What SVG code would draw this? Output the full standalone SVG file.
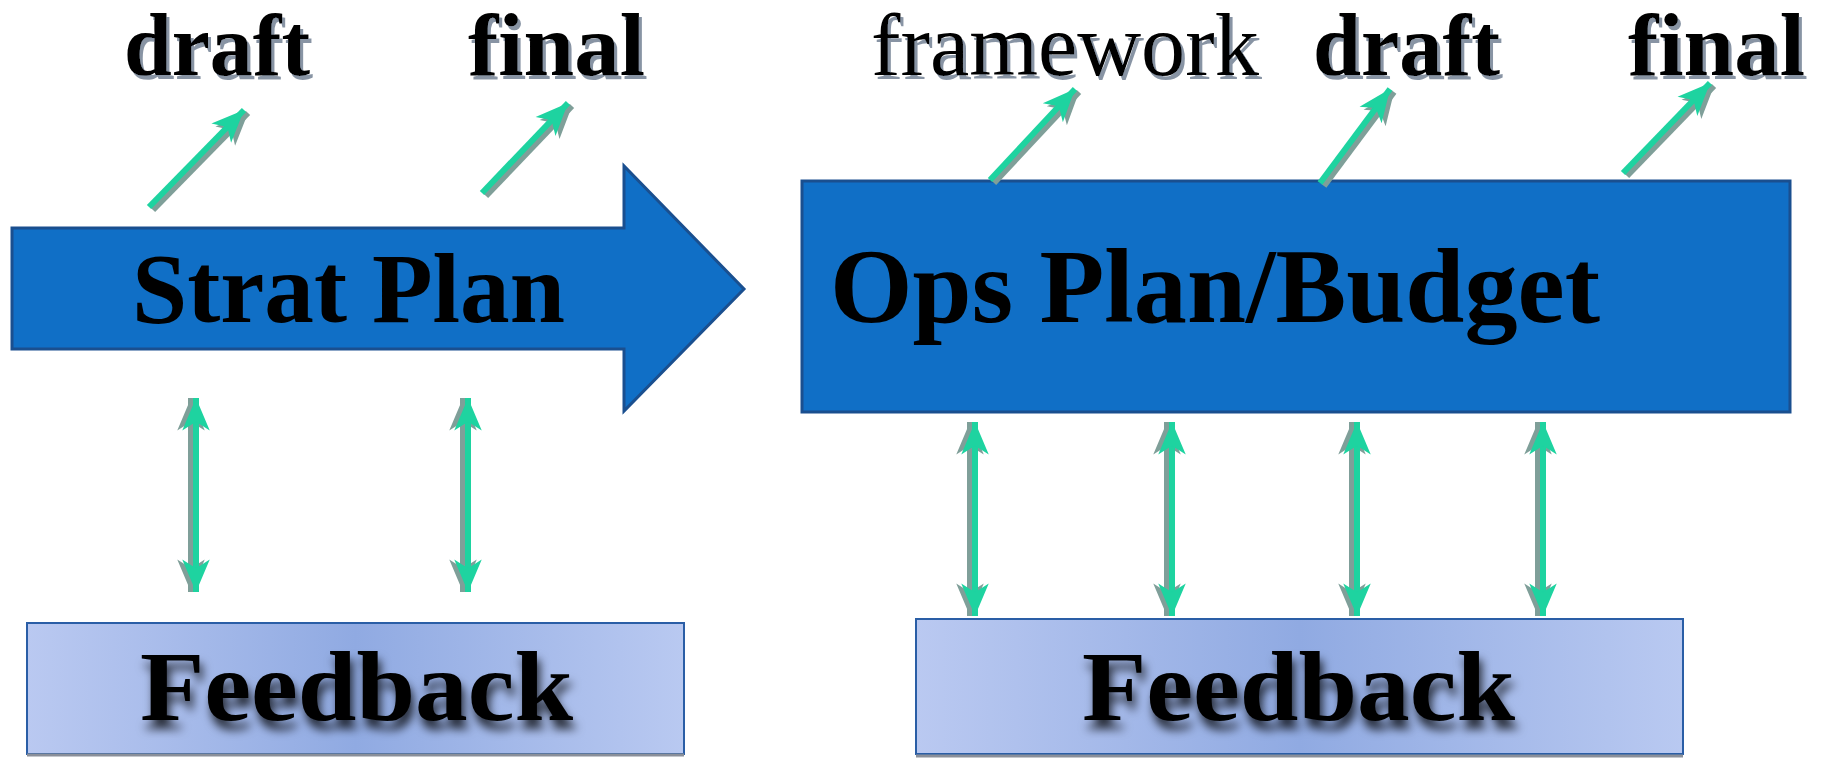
<svg xmlns="http://www.w3.org/2000/svg" width="1825" height="758" viewBox="0 0 1825 758">
<style>
.lbl{font-family:"Liberation Serif","Times New Roman",serif;font-size:88px;fill:#000}
.b{font-weight:bold}
.big{font-family:"Liberation Serif","Times New Roman",serif;font-weight:bold;fill:#000}
.ar{stroke:#1ed3a0;stroke-width:6;fill:none}
.ars{stroke:#7f9f99;stroke-width:6;fill:none}
</style>
<defs>
<marker id="h" markerUnits="userSpaceOnUse" markerWidth="40" markerHeight="40" refX="0" refY="0" viewBox="-30 -15 32 30" orient="auto-start-reverse" overflow="visible">
<path d="M0,0 L-26,-11 L-19,0 L-26,11 Z" fill="#1ed3a0"/>
</marker>
<marker id="hs" markerUnits="userSpaceOnUse" markerWidth="40" markerHeight="40" refX="0" refY="0" viewBox="-30 -15 32 30" orient="auto-start-reverse" overflow="visible">
<path d="M0,0 L-26,-11 L-19,0 L-26,11 Z" fill="#7f9f99"/>
</marker>
<linearGradient id="fb" x1="0" y1="0" x2="1" y2="0">
<stop offset="0" stop-color="#bac9f1"/>
<stop offset="0.5" stop-color="#90aae2"/>
<stop offset="1" stop-color="#b9c9f1"/>
</linearGradient>
<filter id="tsh" x="-10%" y="-20%" width="120%" height="150%">
<feGaussianBlur in="SourceAlpha" stdDeviation="5"/>
<feOffset dx="3" dy="9" result="b"/>
<feFlood flood-color="#000" flood-opacity="0.75"/>
<feComposite in2="b" operator="in"/>
<feMerge><feMergeNode/><feMergeNode in="SourceGraphic"/></feMerge>
</filter>
<filter id="lsh" x="-5%" y="-10%" width="115%" height="130%">
<feOffset in="SourceAlpha" dx="3" dy="4" result="o"/>
<feFlood flood-color="#8894a4"/>
<feComposite in2="o" operator="in"/>
<feMerge><feMergeNode/><feMergeNode in="SourceGraphic"/></feMerge>
</filter>
</defs>
<rect width="1825" height="758" fill="#fff"/>

<g id="strat-plan">
<path d="M12,228 L624,228 L624,166 L744,289 L624,411 L624,349 L12,349 Z" fill="#106fc6" stroke="#1a4f8f" stroke-width="3"/>
<text class="big" x="132" y="322" font-size="99" textLength="433" lengthAdjust="spacingAndGlyphs">Strat Plan</text>
</g>

<g id="ops-plan">
<rect x="802" y="181" width="988" height="231" fill="#106fc6" stroke="#1a4f8f" stroke-width="3"/>
<text class="big" x="830" y="322" font-size="105" textLength="770" lengthAdjust="spacingAndGlyphs">Ops Plan/Budget</text>
</g>

<g id="feedback-left">
<rect x="27" y="623" width="657" height="131" fill="url(#fb)" stroke="#2a5ea6" stroke-width="2"/>
<line x1="27" y1="755" x2="684" y2="755" stroke="#8a8f99" stroke-width="3"/>
<text class="big" x="140" y="720" font-size="100" textLength="433" lengthAdjust="spacingAndGlyphs" filter="url(#tsh)">Feedback</text>
</g>

<g id="feedback-right">
<rect x="916" y="619" width="767" height="135" fill="url(#fb)" stroke="#2a5ea6" stroke-width="2"/>
<line x1="916" y1="756" x2="1683" y2="756" stroke="#8a8f99" stroke-width="3"/>
<text class="big" x="1082" y="720" font-size="100" textLength="433" lengthAdjust="spacingAndGlyphs" filter="url(#tsh)">Feedback</text>
</g>

<g id="label-draft-1">
<text class="lbl b" x="124" y="75" textLength="186" lengthAdjust="spacingAndGlyphs" filter="url(#lsh)">draft</text>
</g>
<g id="label-final-1">
<text class="lbl b" x="468" y="75" textLength="177" lengthAdjust="spacingAndGlyphs" filter="url(#lsh)">final</text>
</g>
<g id="label-framework">
<text class="lbl" x="871" y="75" textLength="388" lengthAdjust="spacingAndGlyphs" filter="url(#lsh)">framework</text>
</g>
<g id="label-draft-2">
<text class="lbl b" x="1313" y="75" textLength="187" lengthAdjust="spacingAndGlyphs" filter="url(#lsh)">draft</text>
</g>
<g id="label-final-2">
<text class="lbl b" x="1628" y="75" textLength="177" lengthAdjust="spacingAndGlyphs" filter="url(#lsh)">final</text>
</g>

<g id="connectors">
<g transform="translate(4,3)">
<line class="ars" x1="149" y1="207" x2="244" y2="110" marker-end="url(#hs)"/>
<line class="ars" x1="482" y1="193" x2="568" y2="103" marker-end="url(#hs)"/>
<line class="ars" x1="990" y1="180" x2="1075" y2="89" marker-end="url(#hs)"/>
<line class="ars" x1="1320" y1="183" x2="1390" y2="89" marker-end="url(#hs)"/>
<line class="ars" x1="1623" y1="173" x2="1710" y2="83" marker-end="url(#hs)"/>
</g>
<line class="ar" x1="149" y1="207" x2="244" y2="110" marker-end="url(#h)"/>
<line class="ar" x1="482" y1="193" x2="568" y2="103" marker-end="url(#h)"/>
<line class="ar" x1="990" y1="180" x2="1075" y2="89" marker-end="url(#h)"/>
<line class="ar" x1="1320" y1="183" x2="1390" y2="89" marker-end="url(#h)"/>
<line class="ar" x1="1623" y1="173" x2="1710" y2="83" marker-end="url(#h)"/>

<g transform="translate(-5,0)">
<line class="ars" x1="196" y1="398" x2="196" y2="592" marker-start="url(#hs)" marker-end="url(#hs)"/>
<line class="ars" x1="468" y1="398" x2="468" y2="592" marker-start="url(#hs)" marker-end="url(#hs)"/>
<line class="ars" x1="975" y1="422" x2="975" y2="616" marker-start="url(#hs)" marker-end="url(#hs)"/>
<line class="ars" x1="1172" y1="422" x2="1172" y2="616" marker-start="url(#hs)" marker-end="url(#hs)"/>
<line class="ars" x1="1357" y1="422" x2="1357" y2="616" marker-start="url(#hs)" marker-end="url(#hs)"/>
<line class="ars" x1="1543" y1="422" x2="1543" y2="616" marker-start="url(#hs)" marker-end="url(#hs)"/>
</g>
<line class="ar" x1="196" y1="398" x2="196" y2="592" marker-start="url(#h)" marker-end="url(#h)"/>
<line class="ar" x1="468" y1="398" x2="468" y2="592" marker-start="url(#h)" marker-end="url(#h)"/>
<line class="ar" x1="975" y1="422" x2="975" y2="616" marker-start="url(#h)" marker-end="url(#h)"/>
<line class="ar" x1="1172" y1="422" x2="1172" y2="616" marker-start="url(#h)" marker-end="url(#h)"/>
<line class="ar" x1="1357" y1="422" x2="1357" y2="616" marker-start="url(#h)" marker-end="url(#h)"/>
<line class="ar" x1="1543" y1="422" x2="1543" y2="616" marker-start="url(#h)" marker-end="url(#h)"/>
</g>
</svg>
